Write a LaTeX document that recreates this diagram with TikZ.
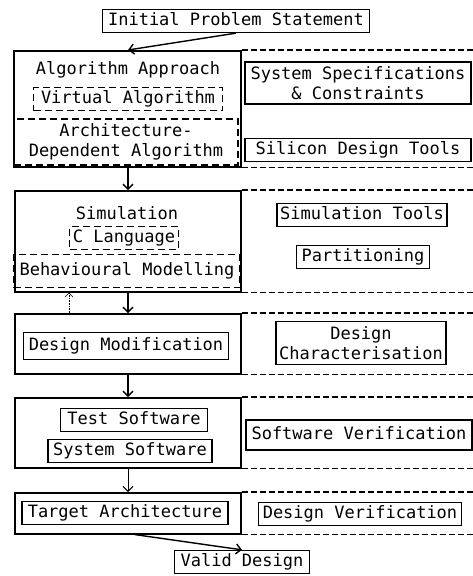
\documentclass[tikz,border=0pt]{standalone}
\usepackage{fontspec}
\newfontfamily\plotfont{DejaVu Sans Mono}
\usetikzlibrary{arrows.meta}

\tikzset{
  txt/.style={font=\plotfont\fontsize{17}{20}\selectfont, inner sep=0pt},
  lbl/.style={txt, draw, line width=1.3pt, inner xsep=3pt, inner ysep=4pt, text height=12pt, text depth=3pt},
  mlbl/.style={txt, draw, line width=1.3pt, inner xsep=3pt, inner ysep=3pt, align=center},
  dbox/.style={dash pattern=on 7pt off 4pt, line width=1.1pt},
  stage/.style={draw, line width=1.6pt, anchor=north west, inner sep=0pt, minimum width=226pt},
  row/.style={dash pattern=on 6pt off 3pt, line width=1.1pt},
  flow/.style={-{Straight Barb[length=5pt,width=10pt]}, line width=1.4pt},
}

\begin{document}
\begin{tikzpicture}[x=1pt, y=-1pt]
   \useasboundingbox (0,0) rectangle (472,576);

   \node (init)[lbl, minimum width=267pt] at (236,21) {Initial Problem Statement};

   % stages
   \node (s1)[stage, minimum width=227pt, minimum height=116pt] at (13,50) {};
   \node (s2)[stage, minimum height=101pt] at (14,190) {};
   \node (s3)[stage, minimum height=60pt] at (14,313) {};
   \node (s4)[stage, minimum height=70pt] at (14,397) {};
   \node (s5)[stage, minimum height=41pt] at (14,492) {};

   \foreach \s in {s1,s2,s3,s4,s5} {
      \draw[row] (\s.north east) -- ++(240,0);
      \draw[row] (\s.south east) -- ++(240,0);
   }

   % left side
   \node (alg)[txt] at (128,70) {Algorithm Approach};
   \node (va)[lbl, dbox, minimum width=189pt] at (128,99) {Virtual Algorithm};
   \node (ada)[mlbl, dbox, minimum width=224pt, minimum height=46pt] at (126,142) {Architecture-\\Dependent Algorithm};
   \node (sim)[txt] at (127,213) {Simulation};
   \node (cl)[lbl, dbox, minimum width=107pt] at (124,238) {C Language};
   \node (bm)[lbl, dbox, minimum width=226pt, minimum height=33pt] at (127,271) {Behavioural Modelling};
   \node (dm)[lbl, minimum width=205pt, minimum height=27pt] at (126,346) {Design Modification};
   \node (ts)[lbl, minimum width=147pt] at (134,420) {Test Software};
   \node (ss)[lbl, minimum width=164pt] at (130,451) {System Software};
   \node (ta)[lbl, minimum width=206pt] at (125,513) {Target Architecture};

   % right side
   \node (spec)[mlbl, minimum width=226pt, minimum height=42pt] at (358,83) {System Specifications\\\& Constraints};
   \node (sdt)[lbl, minimum width=226pt] at (358,150) {Silicon Design Tools};
   \node (simt)[lbl, minimum width=169pt] at (362,215) {Simulation Tools};
   \node (part)[lbl, minimum width=133pt] at (363,257) {Partitioning};
   \node (dch)[mlbl, minimum width=168pt, minimum height=43pt] at (361,343) {Design\\Characterisation};
   \node (swv)[lbl, minimum width=226pt, minimum height=30pt] at (359,435) {Software Verification};
   \node (dv)[lbl, minimum width=203pt] at (360,514) {Design Verification};

   \node (vd)[lbl, minimum width=135pt] at (242,562) {Valid Design};

   % connectors
   \path[flow] (init.south) edge ([xshift=115pt]s1.north west);
   \path[flow] ([xshift=115pt]s1.south west) edge ([xshift=114pt]s2.north west);
   \path[flow] ([xshift=114pt]s2.south west) edge ([xshift=114pt]s3.north west);
   \path[flow] ([xshift=114pt]s3.south west) edge ([xshift=114pt]s4.north west);
   \path[flow, line width=1pt] ([xshift=114pt]s4.south west) edge ([xshift=114pt]s5.north west);
   \path[flow] ([xshift=121pt]s5.south west) edge (vd.north);
   \path[-{Straight Barb[length=4pt,width=8pt]}, densely dotted, line width=0.6pt]
      ([xshift=55pt]s3.north west) edge ([xshift=55pt]s2.south west);
\end{tikzpicture}
\end{document}
